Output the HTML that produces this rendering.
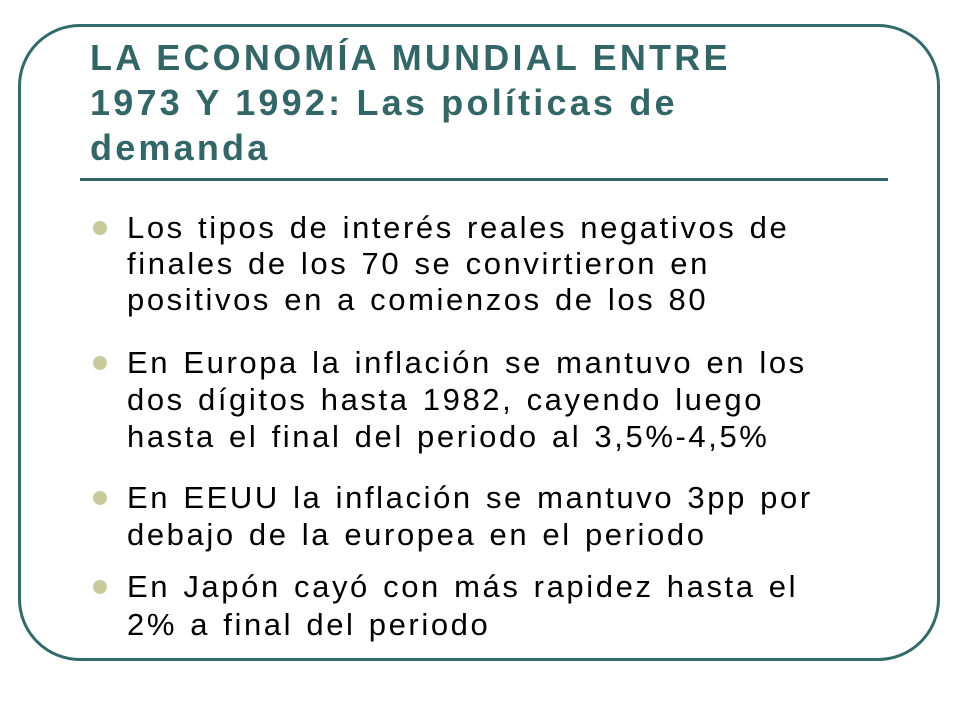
<!DOCTYPE html>
<html><head><meta charset="utf-8"><style>
html,body{margin:0;padding:0;background:#fff;width:960px;height:720px;overflow:hidden}
.frame{position:absolute;left:18px;top:24px;width:922px;height:637px;border:3px solid #336a6a;border-radius:62px;box-sizing:border-box}
.title{position:absolute;left:90px;top:35px;width:860px;font-family:"Liberation Sans",sans-serif;font-weight:bold;font-size:36px;letter-spacing:3.2px;line-height:45px;color:#336666;margin:0;white-space:nowrap}
.rule{position:absolute;left:80px;top:178px;width:808px;height:3px;background:#336666}
.ln{position:absolute;left:127px;font-family:"Liberation Sans",sans-serif;font-size:31px;letter-spacing:2.6px;word-spacing:2px;line-height:36px;height:36px;color:#000;white-space:nowrap}
.dot{position:absolute;left:93px;width:14px;height:14px;border-radius:50%;background:#c9cb9c}
</style></head><body>
<div class="frame"></div>
<h1 class="title">LA ECONOMÍA MUNDIAL ENTRE<br>1973 Y 1992: Las políticas de<br>demanda</h1>
<div class="rule"></div>
<div>
<span class="dot" style="top:221px"></span>
<div class="ln" style="top:210px">Los tipos de interés reales negativos de</div>
<div class="ln" style="top:246px">finales de los 70 se convirtieron en</div>
<div class="ln" style="top:282px">positivos en a comienzos de los 80</div>
</div>
<div>
<span class="dot" style="top:356px"></span>
<div class="ln" style="top:345px">En Europa la inflación se mantuvo en los</div>
<div class="ln" style="top:382px">dos dígitos hasta 1982, cayendo luego</div>
<div class="ln" style="top:419px">hasta el final del periodo al 3,5%-4,5%</div>
</div>
<div>
<span class="dot" style="top:491px"></span>
<div class="ln" style="top:480px">En EEUU la inflación se mantuvo 3pp por</div>
<div class="ln" style="top:517px">debajo de la europea en el periodo</div>
</div>
<div>
<span class="dot" style="top:580px"></span>
<div class="ln" style="top:569px">En Japón cayó con más rapidez hasta el</div>
<div class="ln" style="top:607px">2% a final del periodo</div>
</div>
</body></html>
